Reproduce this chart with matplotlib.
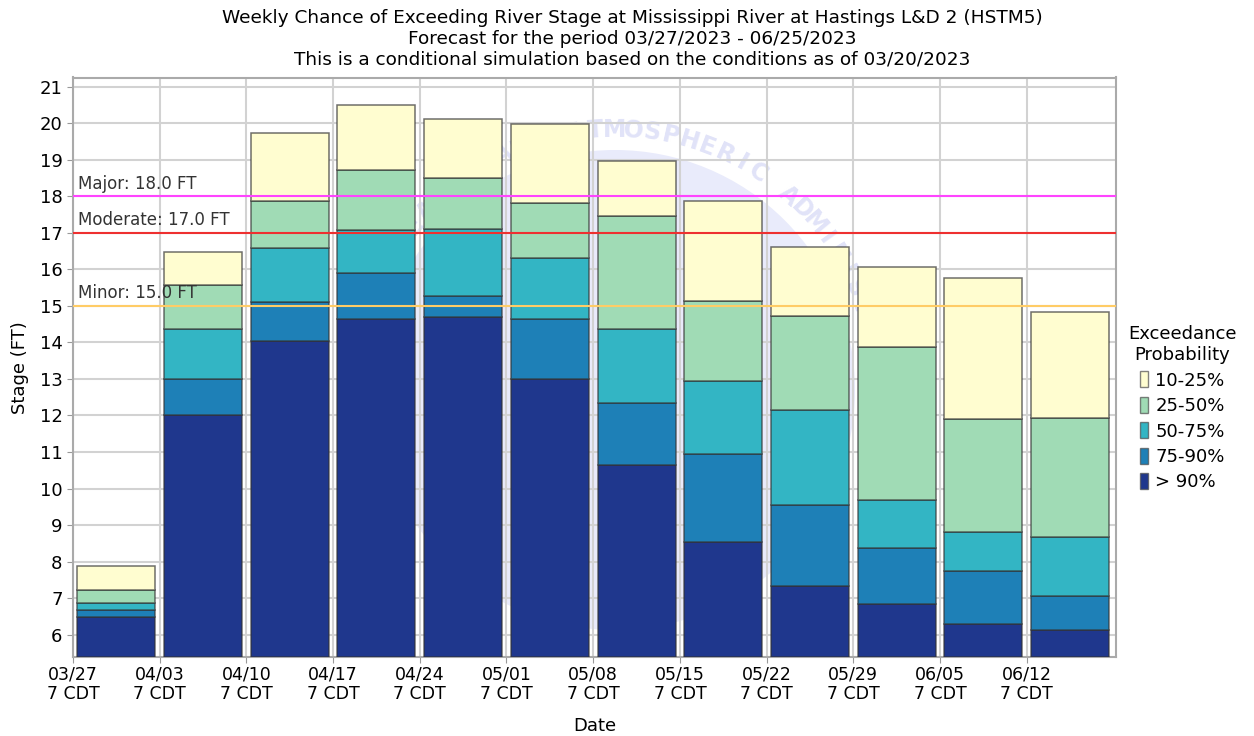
import numpy as np
import matplotlib
matplotlib.use("Agg")
import matplotlib.pyplot as plt
from matplotlib.patches import Circle, Patch

# weekly exceedance levels (FT), top of each band
weeks = ["03/27", "04/03", "04/10", "04/17", "04/24", "05/01",
         "05/08", "05/15", "05/22", "05/29", "06/05", "06/12"]
p90 = [6.48, 12.01, 14.05, 14.65, 14.70, 12.99, 10.64, 8.55, 7.34, 6.85, 6.28, 6.12]
p75 = [6.68, 12.99, 15.10, 15.91, 15.26, 14.63, 12.35, 10.95, 9.56, 8.38, 7.74, 7.05]
p50 = [6.88, 14.37, 16.57, 17.08, 17.09, 16.32, 14.38, 12.95, 12.14, 9.68, 8.80, 8.67]
p25 = [7.22, 15.58, 17.87, 18.72, 18.51, 17.82, 17.47, 15.13, 14.73, 13.88, 11.89, 11.94]
p10 = [7.88, 16.47, 19.72, 20.49, 20.12, 19.97, 18.96, 17.86, 16.60, 16.06, 15.75, 14.83]

levels = [p90, p75, p50, p25, p10]
labels = ["> 90%", "75-90%", "50-75%", "25-50%", "10-25%"]
colors = ["#1f378d", "#1e80b7", "#33b5c4", "#a0dbb5", "#fffdd0"]

flood = [("Major", 18.0, "#ff44ff"), ("Moderate", 17.0, "#ee3030"), ("Minor", 15.0, "#ffcc66")]

ymin, ymax = 5.39, 21.25

fig = plt.figure(figsize=(12.54, 7.36), dpi=100)
ax = fig.add_axes([73 / 1254, 1 - 657 / 736, (1116 - 73) / 1254, (657 - 77.5) / 736])

# faint NOAA style watermark
ax.add_patch(Circle((6.15, 3.46), 2.4, transform=fig.dpi_scale_trans,
                    facecolor="#e9ebfb", edgecolor="none", zorder=0))
wm = "NATIONAL OCEANIC AND ATMOSPHERIC ADMINISTRATION"
a0 = 186.8
for i, ch in enumerate(wm):
    ang = np.radians(a0 - 4.2 * i)
    ax.text(6.15 + 2.6 * np.cos(ang), 3.46 + 2.6 * np.sin(ang), ch,
            transform=fig.dpi_scale_trans, rotation=np.degrees(ang) - 90,
            ha="center", va="center", fontsize=17, fontweight="bold",
            color="#e1e3f8", zorder=0.5, clip_on=True)

x = np.arange(len(weeks)) + 0.5
bottom = np.full(len(weeks), ymin)
for lv, lab, c in zip(levels, labels, colors):
    top = np.array(lv)
    ax.bar(x, top - bottom, bottom=bottom, width=0.9, color=c,
           edgecolor=(0.2, 0.2, 0.2, 0.7), linewidth=1.1, label=lab, zorder=3)
    bottom = top

for name, val, c in flood:
    ax.axhline(val, color=c, linewidth=1.5, zorder=4)
    ax.text(0.06, val + 0.1, f"{name}: {val:.1f} FT", fontsize=12,
            color="#333333", va="bottom", ha="left", zorder=5)

ax.set_xlim(0, 12.03)
ax.set_ylim(ymin, ymax)
ax.set_xticks(np.arange(len(weeks)))
ax.set_xticklabels([w + "\n7 CDT" for w in weeks], fontsize=12.5, linespacing=1.1)
ax.set_yticks(np.arange(6, 22))
ax.tick_params(axis="y", labelsize=13, length=4, color="#999999")
ax.tick_params(axis="x", length=4, pad=2, color="#999999")
ax.grid(True, color="#d2d2d2", linewidth=1.5, zorder=1)
ax.set_axisbelow(True)
for s in ax.spines.values():
    s.set_color("#aaaaaa")
    s.set_linewidth(1.5)
ax.set_facecolor("none")

ax.set_xlabel("Date", fontsize=13, labelpad=10)
ax.set_ylabel("Stage (FT)", fontsize=13, labelpad=8)

fig.text(0.504, 0.988, "Weekly Chance of Exceeding River Stage at Mississippi River at Hastings L&D 2 (HSTM5)\n"
         "Forecast for the period 03/27/2023 - 06/25/2023\n"
         "This is a conditional simulation based on the conditions as of 03/20/2023",
         ha="center", va="top", fontsize=13.3, linespacing=1.2)

handles = [Patch(facecolor=c, edgecolor=(0.3, 0.3, 0.3, 0.7), label=l)
           for c, l in zip(colors[::-1], labels[::-1])]
leg = fig.legend(handles=handles, title="Exceedance\nProbability", loc="upper left",
                 bbox_to_anchor=(1112 / 1254, 1 - 309 / 736), frameon=False,
                 fontsize=13, title_fontsize=13, handlelength=0.45, handleheight=1.0,
                 handletextpad=0.4, labelspacing=0.4)
leg.get_title().set_multialignment("center")

fig.savefig("out.png", dpi=100)
